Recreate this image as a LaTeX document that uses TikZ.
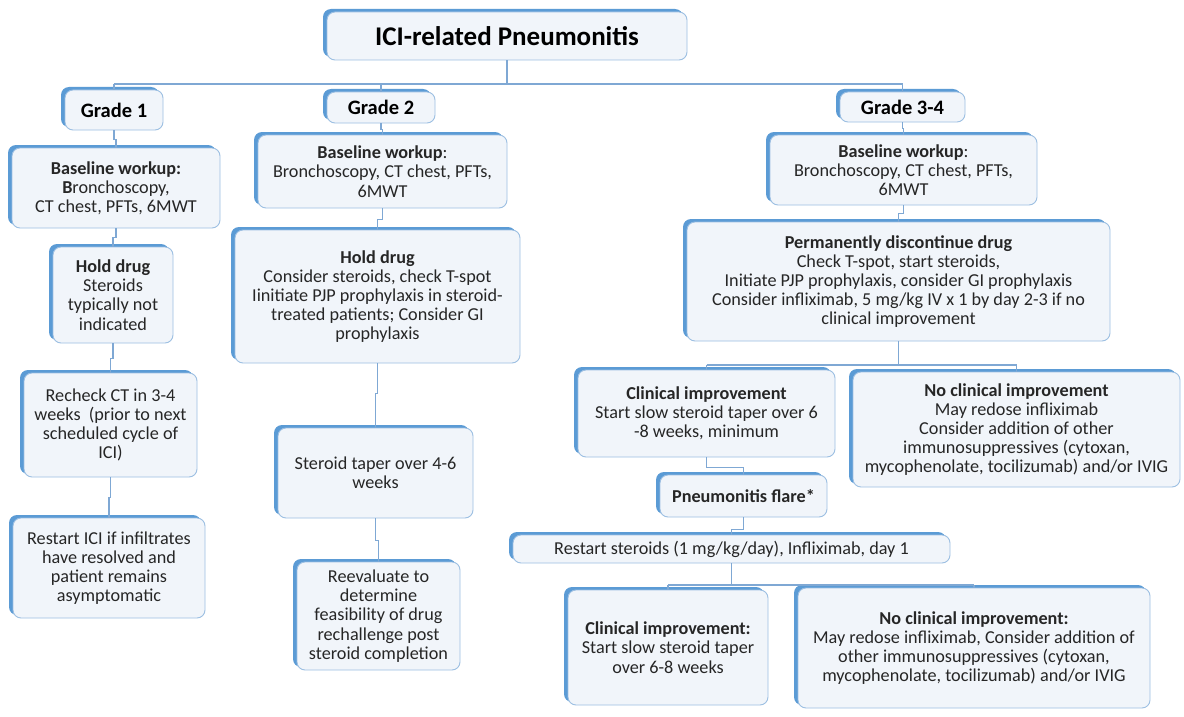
\documentclass[tikz,border=0pt]{standalone}
\usepackage{fontspec}
\setmainfont{Carlito}
\usetikzlibrary{shadows}
\definecolor{edge}{HTML}{5B9BD5}
\definecolor{boxline}{HTML}{9CBFE2}
\definecolor{boxfill}{HTML}{F1F5FA}
\definecolor{conn}{HTML}{7FA8D4}
\definecolor{txt}{HTML}{262626}
\newcommand{\bodyf}{\fontsize{18.2}{19.2}\selectfont}
\newcommand{\gradef}{\fontsize{20.5}{22}\selectfont\bfseries}
\begin{document}
\begin{tikzpicture}[x=1pt,y=-1pt,
  box/.style={draw=boxline, line width=0.9pt, fill=boxfill, rounded corners=8pt,
    inner sep=2pt, align=center, text=txt, font=\bodyf,
    general shadow={shadow xshift=-4pt, shadow yshift=3pt, fill=edge}},
  gradebox/.style={box, font=\gradef, text=black},
  link/.style={draw=conn, line width=1.3pt}]
\useasboundingbox (0,0) rectangle (1184,717);
\fill[white] (0,0) rectangle (1184,717);

\node[box, font=\fontsize{27}{30}\selectfont\bfseries, text=black, minimum width=360pt, minimum height=48pt] (title) at (507,36) {ICI-related Pneumonitis};

\node[gradebox, minimum width=98pt, minimum height=40pt] (g1) at (114,110) {Grade 1};
\node[gradebox, minimum width=108pt, minimum height=31pt] (g2) at (381,107.5) {Grade 2};
\node[gradebox, minimum width=125pt, minimum height=30pt] (g34) at (902.5,107) {Grade 3-4};

\node[box, minimum width=208pt, minimum height=80pt] (b1) at (116,188)
  {\textbf{Baseline workup:}\\\textbf{B}ronchoscopy,\\CT chest, PFTs, 6MWT};
\node[box, minimum width=249pt, minimum height=73pt] (b2) at (382.5,171.5)
  {\textbf{Baseline workup}:\\Bronchoscopy, CT chest, PFTs,\\6MWT};
\node[box, minimum width=267pt, minimum height=70pt] (b3) at (903.5,170)
  {\textbf{Baseline workup}:\\Bronchoscopy, CT chest, PFTs,\\6MWT};

\node[box, minimum width=120pt, minimum height=96pt] (h1) at (113,295)
  {\textbf{Hold drug}\\Steroids\\typically not\\indicated};
\node[box, minimum width=285pt, minimum height=133pt] (h2) at (377.5,296.5)
  {\textbf{Hold drug}\\Consider steroids, check T-spot\\Iinitiate PJP prophylaxis in steroid-\\treated patients; Consider GI\\prophylaxis};
\node[box, minimum width=423pt, minimum height=119pt] (perm) at (898.5,281.5)
  {\textbf{Permanently discontinue drug}\\Check T-spot, start steroids,\\Initiate PJP prophylaxis, consider GI prophylaxis\\Consider infliximab, 5 mg/kg IV x 1 by day 2-3 if no\\clinical improvement};

\node[box, minimum width=173pt, minimum height=104pt] (recheck) at (110.5,425)
  {Recheck CT in 3-4\\weeks\ \ (prior to next\\scheduled cycle of\\ICI)};
\node[box, minimum width=192pt, minimum height=100pt] (restart) at (109,568)
  {Restart ICI if infiltrates\\have resolved and\\patient remains\\asymptomatic};

\node[box, minimum width=195pt, minimum height=90pt] (taper) at (375.5,473)
  {Steroid taper over 4-6\\weeks};
\node[box, minimum width=163pt, minimum height=108pt] (reeval) at (378.5,616)
  {Reevaluate to\\determine\\feasibility of drug\\rechallenge post\\steroid completion};

\node[box, minimum width=257pt, minimum height=87pt] (clin1) at (706.5,413.5)
  {\textbf{Clinical improvement}\\Start slow steroid taper over 6\\-8 weeks, minimum};
\node[box, minimum width=327pt, minimum height=115pt] (noclin1) at (1016.5,429.5)
  {\textbf{No clinical improvement}\\May redose infliximab\\Consider addition of other\\immunosuppressives (cytoxan,\\mycophenolate, tocilizumab) and/or IVIG};
\node[box, minimum width=167pt, minimum height=42pt] (flare) at (743.5,496)
  {\textbf{Pneumonitis flare*}};
\node[box, minimum width=437pt, minimum height=28pt] (rst) at (731.5,549)
  {Restart steroids (1 mg/kg/day), Infliximab, day 1};
\node[box, minimum width=200pt, minimum height=115pt] (clin2) at (668,647.5)
  {\textbf{Clinical improvement:}\\Start slow steroid taper\\over 6-8 weeks};
\node[box, minimum width=352pt, minimum height=120pt] (noclin2) at (974,648)
  {\textbf{No clinical improvement:}\\May redose infliximab, Consider addition of\\other immunosuppressives (cytoxan,\\mycophenolate, tocilizumab) and/or IVIG};

% connectors
\coordinate (bus1) at (0,84);
\coordinate (bus2) at (0,365);
\coordinate (bus3) at (0,585);
\draw[link] (title.south) -- (title.south |- bus1);
\draw[link] (g1.north |- bus1) -- (g34.north |- bus1);
\draw[link] (g1.north |- bus1) -- (g1.north);
\draw[link] (g2.north |- bus1) -- (g2.north);
\draw[link] (g34.north |- bus1) -- (g34.north);

\draw[link] (g1.south) -- ++(0,9) -| (b1.north);
\draw[link] (b1.south) -- ++(0,9) -| (h1.north);
\draw[link] (h1.south) -- ++(0,15) -| (recheck.north);
\draw[link] (recheck.south) -- ++(0,20) -| (restart.north);

\draw[link] (g2.south) -- ++(0,6) -| (b2.north);
\draw[link] (b2.south) -- ++(0,11) -| (h2.north);
\draw[link] (h2.south) -- ++(0,30) -| (taper.north);
\draw[link] (taper.south) -- ++(0,22) -| (reeval.north);

\draw[link] (g34.south) -- ++(0,6) -| (b3.north);
\draw[link] (b3.south) -- ++(0,8) -| (perm.north);
\draw[link] (perm.south) -- (perm.south |- bus2);
\draw[link] (clin1.north |- bus2) -- (noclin1.north |- bus2);
\draw[link] (clin1.north |- bus2) -- (clin1.north);
\draw[link] (noclin1.north |- bus2) -- (noclin1.north);

\draw[link] (clin1.south) -- ++(0,10) -| (flare.north);
\draw[link] (flare.south) -- ++(0,12) -| (rst.north);
\draw[link] (rst.south) -- (rst.south |- bus3);
\draw[link] (clin2.north |- bus3) -- (noclin2.north |- bus3);
\draw[link] (clin2.north |- bus3) -- (clin2.north);
\draw[link] (noclin2.north |- bus3) -- (noclin2.north);
\end{tikzpicture}
\end{document}
